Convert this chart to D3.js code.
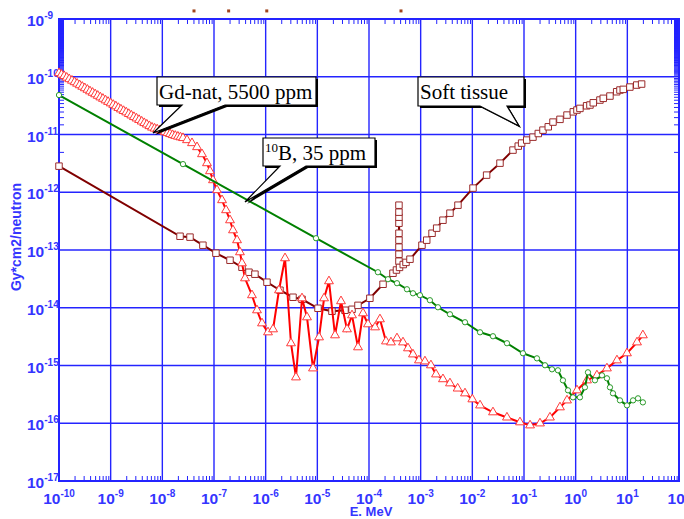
<!DOCTYPE html>
<html><head><meta charset="utf-8">
<script src="https://cdn.jsdelivr.net/npm/d3@7"></script>
<style>body{margin:0;background:#fff} svg{display:block}</style>
</head><body>
<svg id="c" width="684" height="519"></svg>
<script>
// ---- tick labels (exponents of 10)
const xTickExps = [-10,-9,-8,-7,-6,-5,-4,-3,-2,-1,0,1,2];
const yTickExps = [-17,-16,-15,-14,-13,-12,-11,-10,-9];
const xAxisTitle = "E. MeV";
const yAxisTitle = "Gy*cm2/neutron";

// ---- series: [energy MeV, dose Gy*cm2/neutron]
const softTissue = [
 [1e-10,2.83e-12],[2.2e-8,1.73e-13],[3.43e-8,1.67e-13],[6.1e-8,1.21e-13],[1.09e-7,8.8e-14],
 [2.04e-7,6.65e-14],[3.48e-7,5.03e-14],[4.75e-7,4.12e-14],[6.2e-7,3.81e-14],[1.06e-6,2.77e-14],
 [1.89e-6,2.01e-14],[3.38e-6,1.52e-14],[5.05e-6,1.40e-14],[1.03e-5,9.8e-15],[1.92e-5,8.7e-15],
 [3.43e-5,9.05e-15],[4.69e-5,9.4e-15],[6.12e-5,1.10e-14],[1.04e-4,1.46e-14],[1.87e-4,2.55e-14],
 [2.91e-4,3.96e-14],[3.4e-4,4.5e-14],
 [3.8e-4,6.4e-14],[3.8e-4,8.45e-14],[3.8e-4,1.12e-13],[3.8e-4,1.48e-13],[3.8e-4,1.95e-13],
 [3.8e-4,2.91e-13],[3.8e-4,3.70e-13],[3.8e-4,4.52e-13],[3.8e-4,5.97e-13],
 [3.9e-4,5.0e-14],[4.6e-4,5.6e-14],[5.2e-4,6.1e-14],[6.21e-4,6.93e-14],[1.06e-3,1.21e-13],
 [1.31e-3,1.48e-13],[1.66e-3,1.95e-13],[2.04e-3,2.39e-13],[2.70e-3,3.28e-13],[3.69e-3,4.34e-13],
 [5.27e-3,5.97e-13],[1.03e-2,1.18e-12],[1.89e-2,1.98e-12],[3.43e-2,3.19e-12],[6.12e-2,5.37e-12],
 [7.74e-2,6.29e-12],[9.0e-2,7.1e-12],[0.113,8.0e-12],[0.149,9.0e-12],[0.189,1.04e-11],
 [0.233,1.19e-11],[0.295,1.36e-11],[0.364,1.64e-11],[0.497,1.83e-11],[0.68,2.17e-11],
 [0.9,2.47e-11],[1.06,2.65e-11],[1.21,2.83e-11],[1.63,3.14e-11],[1.89,3.24e-11],
 [2.19,3.54e-11],[2.95,3.95e-11],[3.42,4.23e-11],[4.61,4.63e-11],[6.22,5.5e-11],
 [7.2,5.89e-11],[8.34,6.05e-11],[11.2,6.63e-11],[15.2,7.18e-11],[18.9,7.47e-11]
];
const gdNat = [
 [1e-10,1.16e-10],[1.12e-10,1.09e-10],[1.26e-10,1.03e-10],[1.41e-10,9.66e-11],[1.58e-10,9.1e-11],
 [1.78e-10,8.57e-11],[2.0e-10,8.07e-11],[2.24e-10,7.6e-11],[2.51e-10,7.15e-11],[2.82e-10,6.73e-11],
 [3.16e-10,6.34e-11],[3.55e-10,5.97e-11],[3.98e-10,5.6e-11],[4.47e-10,5.29e-11],[5.01e-10,4.98e-11],
 [5.62e-10,4.69e-11],[6.31e-10,4.4e-11],[7.08e-10,4.16e-11],[7.94e-10,3.91e-11],[8.91e-10,3.68e-11],
 [1e-9,3.47e-11],[1.12e-9,3.27e-11],[1.26e-9,3.08e-11],[1.41e-9,2.89e-11],[1.58e-9,2.72e-11],
 [1.78e-9,2.56e-11],[2.0e-9,2.42e-11],[2.24e-9,2.27e-11],[2.51e-9,2.14e-11],[2.82e-9,2.01e-11],
 [3.16e-9,1.9e-11],[3.55e-9,1.79e-11],[3.98e-9,1.68e-11],[4.47e-9,1.58e-11],[5.01e-9,1.49e-11],
 [5.62e-9,1.40e-11],[6.31e-9,1.32e-11],[7.08e-9,1.27e-11],[7.94e-9,1.23e-11],[8.91e-9,1.19e-11],
 [1e-8,1.15e-11],[1.12e-8,1.10e-11],[1.26e-8,1.06e-11],[1.41e-8,1.02e-11],[1.58e-8,9.8e-12],
 [1.78e-8,9.5e-12],[2.0e-8,9.2e-12],[2.24e-8,8.95e-12],[2.51e-8,8.7e-12],[3.0e-8,8.0e-12],
 [3.75e-8,7.1e-12],[4.69e-8,6.05e-12],[5.86e-8,4.57e-12],[7.31e-8,3.19e-12],[8.36e-8,2.32e-12],
 [9.55e-8,1.62e-12],[1.14e-7,1.09e-12],[1.43e-7,7.3e-13],[1.71e-7,4.9e-13],[2.04e-7,3.28e-13],
 [2.33e-7,2.2e-13],[2.79e-7,1.48e-13],[3.18e-7,9.16e-14],[3.48e-7,5.9e-14],[3.98e-7,3.24e-14],
 [5.43e-7,1.65e-14],
 [6.79e-7,9.05e-15],[8.49e-7,5.38e-15],[1.11e-6,3.76e-15],[1.39e-6,4.24e-15],[1.81e-6,2.01e-14],
 [2.37e-6,7.21e-14],[3.09e-6,2.43e-15],[3.86e-6,6.24e-16],[5.05e-6,1.46e-14],[6.31e-6,6.84e-15],
 [8.24e-6,8.93e-16],[1.08e-5,3.08e-15],[1.35e-5,1.46e-14],[1.68e-5,2.88e-14],[2.2e-5,3.34e-15],
 [2.87e-5,1.30e-14],[3.75e-5,4.24e-15],[4.69e-5,7.41e-15],[6.12e-5,2.07e-15],[7.66e-5,8.03e-15],
 [9.55e-5,5.18e-15],[1.31e-4,4.59e-15],[1.63e-4,6.32e-15],[2.13e-4,2.62e-15],[2.66e-4,2.52e-15],
 [3.48e-4,2.96e-15],[4.55e-4,2.52e-15],[5.68e-4,1.99e-15],[7.1e-4,1.56e-15],[9.27e-4,1.23e-15],
 [1.21e-3,1.18e-15],[1.58e-3,1.01e-15],[1.98e-3,7.03e-16],[2.7e-3,5.8e-16],[3.69e-3,4.92e-16],
 [5.2e-3,4.0e-16],[7.21e-3,3.30e-16],[1.0e-2,2.6e-16],[1.41e-2,2.04e-16],[2.51e-2,1.55e-16],
 [4.68e-2,1.26e-16],[8.36e-2,1.04e-16],[0.131,9.2e-17],[0.204,9.96e-17],[0.318,1.26e-16],
 [0.497,1.89e-16],[0.68,2.49e-16],[1.06,3.72e-16],[1.66,5.54e-16],[2.58,6.76e-16],
 [4.03,8.93e-16],[6.3,1.23e-15],[9.84,1.63e-15],[15.4,2.52e-15],[20.0,3.34e-15]
];
const boron10 = [
 [1e-10,4.82e-11],[2.51e-8,3.07e-12],[9.42e-6,1.6e-13],[1.49e-4,4.12e-14],[2.33e-4,3.12e-14],
 [3.48e-4,2.66e-14],[5.43e-4,2.09e-14],[7.1e-4,1.78e-14],[9.7e-4,1.65e-14],[1.51e-3,1.35e-14],
 [2.16e-3,1.02e-14],[3.69e-3,7.71e-15],[7.21e-3,5.61e-15],[1.41e-2,3.76e-15],[2.51e-2,3.21e-15],
 [4.68e-2,2.43e-15],[9.55e-2,1.63e-15],[0.178,1.33e-15],[0.255,1.01e-15],[0.348,8.59e-16],
 [0.454,8.26e-16],[0.567,5.54e-16],[0.71,3.72e-16],[0.887,2.81e-16],[1.21,2.81e-16],
 [1.51,4.19e-16],[1.73,7.62e-16],[2.36,5.54e-16],[3.23,6.76e-16],[4.03,6.0e-16],
 [4.61,4.19e-16],[5.27,3.30e-16],[7.2,2.49e-16],[9.84,2.04e-16],[12.9,2.49e-16],
 [16.1,2.7e-16],[20.0,2.3e-16]
];
// stray marks above the frame
const strayE = [4.1e-8,1.92e-7,1.05e-6,4.16e-4];
const strayD = 1.38e-9;

const calloutLabels = ["Gd-nat, 5500 ppm", "10|B, 35 ppm", "Soft tissue"];

// ---- drawing
const svg = d3.select("#c");
const L=59, R=679, T=19, B=481;
const x = d3.scaleLog().domain([1e-10,1e2]).range([L,R]);
const y = d3.scaleLog().domain([1e-17,1e-9]).range([B,T]);
const BLUE = "#2424ff", LBL = "#3535ff";

// grid
const xDec = xTickExps.map(e => Math.pow(10,e));
const yDec = yTickExps.map(e => Math.pow(10,e));
svg.append("g").selectAll("line").data(xDec).join("line")
  .attr("x1",d=>x(d)).attr("x2",d=>x(d)).attr("y1",T).attr("y2",B)
  .attr("stroke",BLUE).attr("stroke-width",1.4);
svg.append("g").selectAll("line").data(yDec).join("line")
  .attr("y1",d=>y(d)).attr("y2",d=>y(d)).attr("x1",L).attr("x2",R)
  .attr("stroke",BLUE).attr("stroke-width",1.4);

// minor ticks (inside)
const isDec = v => Math.abs(Math.log10(v) - Math.round(Math.log10(v))) < 1e-9;
const xMinor = x.ticks(200).filter(v => !isDec(v));
const yMinor = y.ticks(200).filter(v => !isDec(v));
function styleAxis(g){ g.select(".domain").remove(); g.selectAll("line").attr("stroke",BLUE).attr("stroke-width",1); g.selectAll("text").remove(); }
svg.append("g").attr("transform",`translate(0,${B})`).call(d3.axisBottom(x).tickValues(xMinor).tickSize(-5).tickFormat("")).call(styleAxis);
svg.append("g").attr("transform",`translate(0,${T})`).call(d3.axisTop(x).tickValues(xMinor).tickSize(-5).tickFormat("")).call(styleAxis);
svg.append("g").attr("transform",`translate(${L},0)`).call(d3.axisLeft(y).tickValues(yMinor).tickSize(-5).tickFormat("")).call(styleAxis);
svg.append("g").attr("transform",`translate(${R},0)`).call(d3.axisRight(y).tickValues(yMinor).tickSize(-5).tickFormat("")).call(styleAxis);

// frame
svg.append("rect").attr("x",L).attr("y",T).attr("width",R-L).attr("height",B-T)
  .attr("fill","none").attr("stroke",BLUE).attr("stroke-width",2);

// tick labels
const FONT = "'Liberation Sans', Arial, sans-serif";
const xl = svg.append("g").attr("font-family",FONT).attr("font-weight","bold").attr("fill",LBL);
xTickExps.forEach(e => {
  const t = xl.append("text").attr("x", x(Math.pow(10,e))).attr("y",504).attr("text-anchor","middle").attr("font-size",15.5);
  t.append("tspan").text("10");
  t.append("tspan").attr("dy",-7).attr("font-size",10).text(e);
});
const yl = svg.append("g").attr("font-family",FONT).attr("font-weight","bold").attr("fill",LBL);
yTickExps.forEach(e => {
  const t = yl.append("text").attr("x",27).attr("y", y(Math.pow(10,e))+7).attr("font-size",15.5);
  t.append("tspan").text("10");
  t.append("tspan").attr("dy",-7).attr("font-size",10).text(e);
});
svg.append("text").attr("x",371).attr("y",516).attr("text-anchor","middle")
  .attr("font-family",FONT).attr("font-weight","bold").attr("font-size",13).attr("fill",LBL).text(xAxisTitle);
svg.append("text").attr("transform","translate(21,237) rotate(-90)").attr("text-anchor","middle")
  .attr("font-family",FONT).attr("font-weight","bold").attr("font-size",14).attr("fill",LBL).text(yAxisTitle);

// series
const line = d3.line().x(d=>x(d[0])).y(d=>y(d[1]));
function series(data, color, mstroke, sym, size){
  const g = svg.append("g");
  g.append("path").datum(data).attr("d",line).attr("fill","none").attr("stroke",color).attr("stroke-width",2);
  g.selectAll("path.m").data(data).join("path").attr("class","m")
    .attr("transform",d=>`translate(${x(d[0])},${y(d[1])})`)
    .attr("d",d3.symbol(sym,size)).attr("fill","#fff").attr("stroke",mstroke).attr("stroke-width",1);
}
series(softTissue,"#800000","#9a2a2a",d3.symbolSquare,42);
series(gdNat,"#ff0000","#ff3a3a",d3.symbolTriangle,34);
series(boron10,"#008000","#2a9a2a",d3.symbolCircle,22);

svg.append("g").selectAll("rect").data(strayE).join("rect")
  .attr("x",d=>x(d)-1.5).attr("y",y(strayD)-1.5).attr("width",3).attr("height",3).attr("fill","#a0441c");

// callouts
const SERIF = "'Liberation Serif','Times New Roman',serif";
function callout(bx,by,bw,bh,p1,p2,tip){
  const p = d3.path();
  p.moveTo(bx,by); p.lineTo(bx+bw,by); p.lineTo(bx+bw,by+bh);
  p.lineTo(p2,by+bh); p.lineTo(tip[0],tip[1]); p.lineTo(p1,by+bh); p.lineTo(bx,by+bh); p.closePath();
  svg.append("path").attr("d",p.toString()).attr("transform","translate(2,2)").attr("fill","#000");
  svg.append("path").attr("d",p.toString()).attr("fill","#fff").attr("stroke","#000").attr("stroke-width",1.2);
}
callout(157,77,159,28,182,225,[153,133]);
svg.append("text").attr("x",159).attr("y",99).attr("font-family",SERIF).attr("font-size",21).attr("fill","#000").text(calloutLabels[0]);
callout(263,138,112,28,280,306,[245,202]);
{
  const parts = calloutLabels[1].split("|");
  const t = svg.append("text").attr("x",265).attr("y",160).attr("font-family",SERIF).attr("fill","#000");
  t.append("tspan").attr("font-size",13).attr("dy",-8).text(parts[0]);
  t.append("tspan").attr("font-size",21).attr("dy",8).text(parts[1]);
}
callout(418,77,106,29,480,507,[519,126]);
svg.append("text").attr("x",420).attr("y",99).attr("font-family",SERIF).attr("font-size",21).attr("fill","#000").text(calloutLabels[2]);
</script>
</body></html>
